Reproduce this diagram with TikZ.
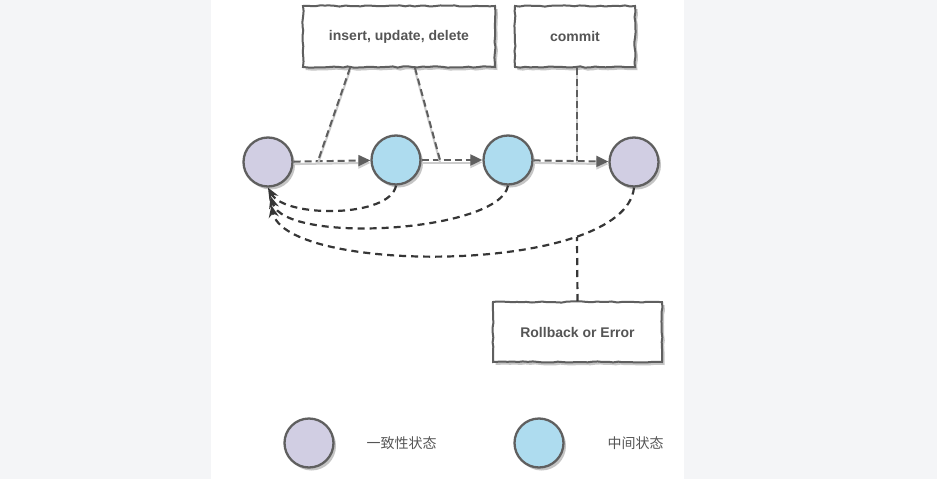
\documentclass[tikz,border=0pt]{standalone}
\usepackage{fontspec}
\setmainfont{Liberation Sans}
\newfontfamily\cjk{Noto Sans CJK SC}
\usepackage{tikz}
\usetikzlibrary{arrows.meta, shadows, decorations.pathmorphing}

\definecolor{pagebg}{HTML}{F4F5F7}
\definecolor{lineg}{HTML}{5F5F5F}
\definecolor{backg}{HTML}{363636}
\definecolor{txtg}{HTML}{555555}
\definecolor{statea}{HTML}{D1CEE3}
\definecolor{stateb}{HTML}{AEDCEF}

\begin{document}
\begin{tikzpicture}[x=1pt, y=-1pt]
		\tikzset{state/.style = {circle, draw=lineg, line width=2.3pt, minimum size=49pt, inner sep=0pt,
				drop shadow={shadow xshift=2.5pt, shadow yshift=-3pt, opacity=0.45}}}
		\tikzset{okstate/.style = {state, fill=statea}}
		\tikzset{midstate/.style = {state, fill=stateb}}
		\tikzset{opbox/.style = {draw=lineg, line width=2pt, fill=white, text=txtg, inner sep=0pt,
				font=\bfseries\fontsize{14}{16}\selectfont,
				decorate, decoration={random steps, segment length=5pt, amplitude=0.6pt},
				drop shadow={shadow xshift=2.5pt, shadow yshift=-3pt, opacity=0.45}}}
		\tikzset{flow/.style = {lineg, line width=2pt, dash pattern=on 7pt off 4pt,
				preaction={draw=gray!40, line width=2pt, transform canvas={yshift=-2.5pt}}}}
		\tikzset{back/.style = {backg, line width=2.2pt, dash pattern=on 7pt off 5pt}}
		\tikzset{legend/.style = {text=txtg, font=\cjk\fontsize{14}{16}\selectfont}}
		
		\fill[pagebg] (0,0) rectangle (937,479);
		\fill[white] (211,0) rectangle (684,479);
		
		\node[opbox, minimum width=192pt, minimum height=61pt] (B1) at (399,36.5) {insert, update, delete};
		\node[opbox, minimum width=120pt, minimum height=61pt] (B2) at (575,36.5) {commit};
		\node[opbox, minimum width=169pt, minimum height=60pt] (B3) at (577.5,332) {Rollback or Error};
		
		\node[okstate] (C1) at (268,162) {};
		\node[midstate] (C2) at (396,160) {};
		\node[midstate] (C3) at (508,160) {};
		\node[okstate] (C4) at (634,162) {};
		
		\node[okstate] (K1) at (309,443) {};
		\node[legend] (K1t) at (401.5,443) {一致性状态};
		\node[midstate] (K2) at (539,443) {};
		\node[legend] (K2t) at (635.5,443) {中间状态};
		
		\coordinate (J1) at (318,161);
		\coordinate (J2) at (440,160);
		\coordinate (J3) at (577,161);
		\coordinate (J4) at (577,237);
		
		%%%%%%%%%%%%%%%%%%%%%%%%%%%%%%
		
		\draw[flow, -{Triangle[length=12pt,width=11pt]}] (C1) -- (C2);
		\draw[flow, -{Triangle[length=12pt,width=11pt]}] (C2) -- (C3);
		\draw[flow, -{Triangle[length=12pt,width=11pt]}] (C3) -- (C4);
		
		\draw[flow] (B1.south -| 350,0) -- (J1);
		\draw[flow] (B1.south -| 415,0) -- (J2);
		\draw[flow] (B2.south -| J3) -- (J3);
		
		\draw[back, -{Stealth[length=12pt,width=10pt]}] (C2.south) .. controls (390,218) and (285,218) .. (C1.south);
		\draw[back, -{Stealth[length=12pt,width=10pt]}, shorten >=9pt] (C3.south) .. controls (500,232) and (285,245) .. (C1.south);
		\draw[back, -{Stealth[length=12pt,width=10pt]}, shorten >=18pt] (C4.south) .. controls (625,275) and (285,275) .. (C1.south);
		\draw[back] (B3.north) -- (J4);
		
	\end{tikzpicture}
\end{document}
